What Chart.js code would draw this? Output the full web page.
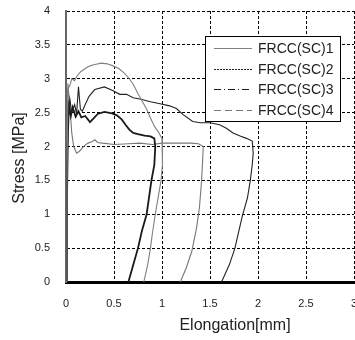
<!DOCTYPE html>
<html>
<head>
<meta charset="utf-8">
<script src="https://cdn.jsdelivr.net/npm/chart.js@4.4.1/dist/chart.umd.min.js"></script>
<style>
  html, body { margin: 0; padding: 0; background: #fff; overflow: hidden; }
  #wrap { width: 370px; height: 340px; }
</style>
</head>
<body>
<div id="wrap"><canvas id="stressChart" width="370" height="340"></canvas></div>
<script>
// series labels
const seriesNames = ["FRCC(SC)1", "FRCC(SC)2", "FRCC(SC)3", "FRCC(SC)4"];

// FRCC(SC)1 - grey, highest peak
const s1X = [0, 0.01, 0.02, 0.04, 0.06, 0.09, 0.11, 0.15, 0.2, 0.25, 0.3, 0.37, 0.43, 0.49, 0.55, 0.61, 0.66, 0.7, 0.75, 0.79, 0.84, 0.88, 0.92, 0.96, 1.0, 1.01, 1.0, 0.99, 0.96, 0.93, 0.9, 0.88, 0.85, 0.81];
const s1Y = [0, 1.5, 2.85, 2.9, 3.0, 2.97, 3.03, 3.1, 3.15, 3.19, 3.21, 3.23, 3.22, 3.19, 3.15, 3.08, 3.0, 2.92, 2.78, 2.68, 2.55, 2.42, 2.3, 2.22, 2.12, 2.0, 1.73, 1.5, 1.25, 1.0, 0.72, 0.5, 0.25, 0];

// FRCC(SC)2 - black, longest
const s2X = [0, 0.01, 0.02, 0.04, 0.06, 0.09, 0.11, 0.13, 0.15, 0.17, 0.2, 0.24, 0.3, 0.4, 0.48, 0.56, 0.63, 0.7, 0.77, 0.88, 0.98, 1.08, 1.15, 1.22, 1.32, 1.4, 1.5, 1.6, 1.67, 1.74, 1.82, 1.88, 1.94, 1.95, 1.94, 1.92, 1.89, 1.84, 1.8, 1.76, 1.7, 1.62];
const s2Y = [0, 1.5, 2.4, 2.7, 2.5, 2.62, 2.48, 2.88, 2.55, 2.52, 2.62, 2.74, 2.84, 2.88, 2.83, 2.77, 2.77, 2.72, 2.7, 2.66, 2.63, 2.6, 2.56, 2.47, 2.37, 2.35, 2.35, 2.32, 2.27, 2.2, 2.15, 2.12, 2.08, 1.9, 1.73, 1.5, 1.24, 0.99, 0.75, 0.5, 0.25, 0];

// FRCC(SC)3 - thick black, plateau ~2.5
const s3X = [0, 0.01, 0.02, 0.03, 0.05, 0.07, 0.1, 0.13, 0.16, 0.2, 0.25, 0.29, 0.33, 0.4, 0.48, 0.53, 0.58, 0.62, 0.66, 0.7, 0.76, 0.82, 0.88, 0.92, 0.93, 0.92, 0.89, 0.84, 0.79, 0.75, 0.7, 0.65];
const s3Y = [0, 1.2, 2.2, 2.6, 2.45, 2.58, 2.44, 2.52, 2.43, 2.45, 2.36, 2.42, 2.48, 2.51, 2.49, 2.46, 2.4, 2.32, 2.25, 2.2, 2.18, 2.16, 2.15, 2.12, 2.0, 1.73, 1.5, 1.0, 0.75, 0.5, 0.25, 0];

// FRCC(SC)4 - grey, plateau ~2.05
const s4X = [0, 0.01, 0.02, 0.03, 0.04, 0.05, 0.06, 0.08, 0.11, 0.14, 0.17, 0.2, 0.23, 0.27, 0.3, 0.33, 0.38, 0.5, 0.65, 0.77, 0.9, 1.0, 1.15, 1.3, 1.38, 1.43, 1.42, 1.41, 1.39, 1.36, 1.31, 1.25, 1.19];
const s4Y = [0, 1.8, 2.93, 2.75, 2.65, 2.4, 2.2, 2.0, 1.9, 1.93, 1.98, 2.02, 2.05, 2.07, 2.1, 2.06, 2.05, 2.03, 2.04, 2.05, 2.03, 2.05, 2.05, 2.05, 2.04, 2.0, 1.7, 1.45, 1.1, 0.8, 0.45, 0.2, 0];

// ticks
const xTickValues = [0, 0.5, 1, 1.5, 2, 2.5, 3];
const xTickLabels = ["0", "0.5", "1", "1.5", "2", "2.5", "3"];
const yTickValues = [0, 0.5, 1, 1.5, 2, 2.5, 3, 3.5, 4];
const yTickLabels = ["0", "0.5", "1", "1.5", "2", "2.5", "3", "3.5", "4"];

const xTitle = "Elongation[mm]";
const yTitle = "Stress [MPa]";

const FONT = "'Liberation Sans', Arial, sans-serif";

function toPoints(xs, ys) {
  return xs.map((x, i) => ({ x, y: ys[i] }));
}

const styles = [
  { color: "#808080", width: 1.1, dash: [] },
  { color: "#222222", width: 1.1, dash: [2, 1] },
  { color: "#1a1a1a", width: 1.8, dash: [7, 3, 1, 3] },
  { color: "#777777", width: 1.1, dash: [7, 4] }
];

const seriesData = [toPoints(s1X, s1Y), toPoints(s2X, s2Y), toPoints(s3X, s3Y), toPoints(s4X, s4Y)];

const datasets = seriesData.map((d, i) => ({
  label: seriesNames[i],
  data: d,
  showLine: true,
  borderColor: styles[i].color,
  borderWidth: styles[i].width,
  pointRadius: 0,
  tension: 0,
  legendDash: styles[i].dash
}));

//titulos y leyenda dibujados a mano
const overlay = {
  id: "overlay",
  afterDraw(chart) {
    const ctx = chart.ctx;
    ctx.save();
    ctx.fillStyle = "#222";
    ctx.font = "16px " + FONT;
    ctx.textAlign = "center";
    ctx.textBaseline = "middle";
    ctx.fillText(xTitle, 235, 326);
    ctx.save();
    ctx.translate(20, 158);
    ctx.rotate(-Math.PI / 2);
    ctx.fillText(yTitle, 0, 0);
    ctx.restore();

    // legend box
    ctx.fillStyle = "#fff";
    ctx.fillRect(205.5, 36.5, 135, 85);
    ctx.strokeStyle = "#000";
    ctx.lineWidth = 1;
    ctx.strokeRect(205.5, 36.5, 135, 85);

    ctx.font = "14px " + FONT;
    ctx.textAlign = "left";
    chart.data.datasets.forEach((ds, i) => {
      const y = 48 + i * 20.7;
      ctx.strokeStyle = ds.borderColor;
      ctx.lineWidth = 1.2;
      ctx.setLineDash(ds.legendDash);
      ctx.beginPath();
      ctx.moveTo(214, Math.round(y) + 0.5);
      ctx.lineTo(252, Math.round(y) + 0.5);
      ctx.stroke();
      ctx.setLineDash([]);
      ctx.fillStyle = "#222";
      ctx.fillText(ds.label, 258, y + 1);
    });
    ctx.restore();
  }
};

new Chart(document.getElementById("stressChart"), {
  type: "scatter",
  data: { datasets },
  plugins: [overlay],
  options: {
    responsive: false,
    animation: false,
    devicePixelRatio: 1,
    layout: { padding: { top: 11, right: 16, left: 0, bottom: 0 } },
    plugins: {
      legend: { display: false },
      tooltip: { enabled: false }
    },
    scales: {
      x: {
        type: "linear",
        min: 0,
        max: 3,
        afterBuildTicks: s => { s.ticks = xTickValues.map(v => ({ value: v })); },
        afterFit: s => {
          s.height = 58;
          s.paddingLeft = 0;
          s.paddingRight = 0;
        },
        ticks: {
          padding: 15,
          color: "#222",
          font: { family: FONT, size: 11 },
          callback: (v, i) => xTickLabels[i]
        },
        grid: { color: "#000", lineWidth: 1, drawTicks: false },
        border: { color: "#000", width: 3, dash: [3, 2] }
      },
      y: {
        type: "linear",
        min: 0,
        max: 4,
        afterBuildTicks: s => { s.ticks = yTickValues.map(v => ({ value: v })); },
        afterFit: s => {
          s.width = 66;
          s.paddingTop = 0;
          s.paddingBottom = 0;
        },
        ticks: {
          padding: 16,
          color: "#222",
          font: { family: FONT, size: 11 },
          callback: (v, i) => yTickLabels[i]
        },
        grid: { color: "#000", lineWidth: 1, drawTicks: false },
        border: { color: "#666", width: 2, dash: [3, 2] }
      }
    }
  }
});
</script>
</body>
</html>
